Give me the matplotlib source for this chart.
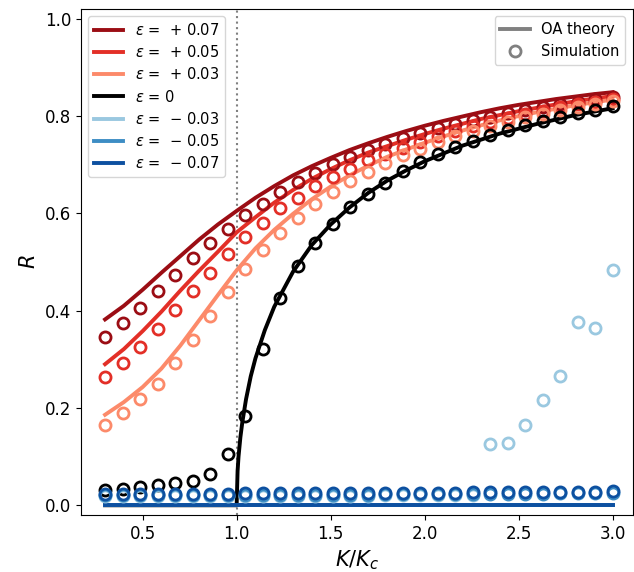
import numpy as np
import matplotlib
matplotlib.use("Agg")
import matplotlib.pyplot as plt
from matplotlib.lines import Line2D

# ---------------- data ----------------
eps_labels = [r"$\varepsilon$ =  + 0.07", r"$\varepsilon$ =  + 0.05", r"$\varepsilon$ =  + 0.03",
              r"$\varepsilon$ = 0", r"$\varepsilon$ =  $-$ 0.03", r"$\varepsilon$ =  $-$ 0.05",
              r"$\varepsilon$ =  $-$ 0.07"]
colors = ["#9b0d14", "#e32f27", "#fc8a6a", "#000000", "#9ac8e0", "#3d8dc4", "#0d50a0"]

# simulation K/Kc grid (30 points)
K_sim = [0.300, 0.393, 0.486, 0.579, 0.672, 0.766, 0.859, 0.952, 1.045, 1.138,
         1.231, 1.324, 1.417, 1.510, 1.603, 1.697, 1.790, 1.883, 1.976, 2.069,
         2.162, 2.255, 2.348, 2.441, 2.534, 2.628, 2.721, 2.814, 2.907, 3.000]

sim_p07 = [0.345, 0.374, 0.406, 0.441, 0.474, 0.508, 0.539, 0.567, 0.596, 0.620,
           0.643, 0.665, 0.683, 0.701, 0.716, 0.731, 0.742, 0.754, 0.766, 0.775,
           0.783, 0.791, 0.798, 0.806, 0.812, 0.818, 0.825, 0.829, 0.834, 0.840]
sim_p05 = [0.264, 0.292, 0.326, 0.362, 0.402, 0.441, 0.478, 0.517, 0.551, 0.580,
           0.610, 0.632, 0.656, 0.675, 0.692, 0.709, 0.721, 0.735, 0.747, 0.758,
           0.769, 0.779, 0.788, 0.796, 0.804, 0.811, 0.818, 0.824, 0.829, 0.834]
sim_p03 = [0.166, 0.190, 0.218, 0.250, 0.293, 0.340, 0.390, 0.439, 0.486, 0.525,
           0.559, 0.590, 0.620, 0.644, 0.667, 0.685, 0.704, 0.720, 0.733, 0.746,
           0.758, 0.769, 0.779, 0.788, 0.797, 0.805, 0.812, 0.818, 0.824, 0.830]
sim_0 = [0.031, 0.034, 0.037, 0.041, 0.045, 0.050, 0.064, 0.105, 0.184, 0.322,
         0.425, 0.491, 0.539, 0.579, 0.613, 0.639, 0.662, 0.687, 0.705, 0.722,
         0.736, 0.748, 0.761, 0.771, 0.781, 0.790, 0.798, 0.806, 0.812, 0.821]
sim_m03 = [0.020, 0.020, 0.020, 0.020, 0.020, 0.020, 0.020, 0.020, 0.020, 0.020,
           0.020, 0.020, 0.020, 0.020, 0.020, 0.020, 0.021, 0.021, 0.021, 0.021,
           0.021, 0.022, 0.125, 0.128, 0.164, 0.216, 0.265, 0.376, 0.364, 0.484]
sim_m05 = [0.021, 0.021, 0.021, 0.021, 0.021, 0.021, 0.021, 0.021, 0.022, 0.022,
           0.022, 0.022, 0.022, 0.022, 0.022, 0.022, 0.023, 0.023, 0.023, 0.023,
           0.023, 0.023, 0.024, 0.024, 0.024, 0.024, 0.025, 0.025, 0.025, 0.026]
sim_m07 = [0.024, 0.024, 0.024, 0.024, 0.024, 0.024, 0.024, 0.024, 0.025, 0.025,
           0.025, 0.025, 0.025, 0.025, 0.025, 0.026, 0.026, 0.026, 0.026, 0.026,
           0.026, 0.027, 0.027, 0.027, 0.027, 0.028, 0.028, 0.028, 0.028, 0.029]

# theory (OA) curves
K_th = [0.3, 0.4, 0.5, 0.6, 0.7, 0.8, 0.9, 1.0, 1.1, 1.2, 1.3, 1.4, 1.5, 1.6,
        1.7, 1.8, 1.9, 2.0, 2.1, 2.2, 2.3, 2.4, 2.5, 2.6, 2.7, 2.8, 2.9, 3.0]
th_p07 = [0.382, 0.410, 0.443, 0.478, 0.512, 0.546, 0.577, 0.605, 0.632, 0.656,
          0.678, 0.697, 0.714, 0.730, 0.744, 0.757, 0.769, 0.780, 0.790, 0.799,
          0.808, 0.816, 0.823, 0.829, 0.835, 0.840, 0.845, 0.849]
th_p05 = [0.290, 0.321, 0.358, 0.398, 0.441, 0.482, 0.521, 0.561, 0.592, 0.622,
          0.648, 0.671, 0.691, 0.709, 0.725, 0.738, 0.751, 0.763, 0.774, 0.784,
          0.794, 0.802, 0.810, 0.817, 0.824, 0.830, 0.836, 0.841]
th_p03 = [0.186, 0.212, 0.243, 0.281, 0.328, 0.380, 0.432, 0.483, 0.528, 0.566,
          0.599, 0.629, 0.655, 0.678, 0.698, 0.716, 0.731, 0.745, 0.758, 0.770,
          0.781, 0.791, 0.800, 0.808, 0.815, 0.822, 0.828, 0.834]
K_th0 = [0.3, 1.0, 1.005, 1.01, 1.02, 1.03, 1.05, 1.075, 1.1, 1.15, 1.2, 1.3, 1.4,
         1.5, 1.6, 1.7, 1.8, 1.9, 2.0, 2.2, 2.4, 2.6, 2.8, 3.0]
th_0 = [0.0, 0.0, 0.070, 0.100, 0.140, 0.170, 0.218, 0.265, 0.302, 0.360, 0.408,
        0.480, 0.535, 0.577, 0.612, 0.642, 0.667, 0.688, 0.707, 0.739, 0.764,
        0.784, 0.802, 0.816]
K_thneg = [0.3, 3.0]
th_neg = [0.0, 0.0]

theory = [(K_th, th_p07), (K_th, th_p05), (K_th, th_p03), (K_th0, th_0),
          (K_thneg, th_neg), (K_thneg, th_neg), (K_thneg, th_neg)]
sims = [sim_p07, sim_p05, sim_p03, sim_0, sim_m03, sim_m05, sim_m07]

# ---------------- plot ----------------
fig = plt.figure(figsize=(6.34, 5.72), dpi=100)
ax = fig.add_axes([81/634, 1 - 515/572, (632.7 - 81)/634, (515 - 9)/572])

ax.axvline(1.0, color="gray", ls=":", lw=1.5, zorder=1)

handles = []
for (kx, ky), s, c, lab in zip(theory, sims, colors, eps_labels):
    ln, = ax.plot(kx, ky, color=c, lw=2.8, label=lab, zorder=2)
    ax.plot(K_sim, s, ls="none", marker="o", ms=8, mfc="none", mec=c, mew=2, zorder=3)
    handles.append(ln)

ax.set_xlim(0.172, 3.107)
ax.set_ylim(-0.02, 1.02)
ax.set_xticks([0.5, 1.0, 1.5, 2.0, 2.5, 3.0])
ax.set_yticks([0.0, 0.2, 0.4, 0.6, 0.8, 1.0])
ax.tick_params(labelsize=12)
ax.set_xlabel(r"$K/K_c$", fontsize=15)
ax.set_ylabel(r"$R$", fontsize=15)

leg1 = ax.legend(handles=handles, loc="upper left", fontsize=10.5, labelspacing=0.42)
ax.add_artist(leg1)
proxy = [Line2D([], [], color="gray", lw=2.8),
         Line2D([], [], color="gray", ls="none", marker="o", ms=8, mfc="none", mew=2)]
ax.legend(proxy, ["OA theory", "Simulation"], loc="upper right", fontsize=10.5)

fig.savefig("out.png", dpi=100)
